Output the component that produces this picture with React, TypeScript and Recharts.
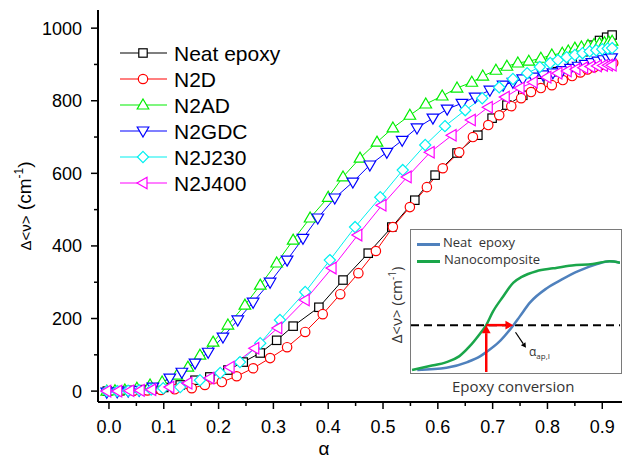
import { LineChart, Line, XAxis, YAxis, ReferenceLine } from "recharts";

// ---- main chart data (alpha, delta nu) ----
const NEAT_A = [-0.003, 0.02, 0.04, 0.06, 0.08, 0.1, 0.13, 0.157, 0.184, 0.217, 0.245, 0.276, 0.306, 0.336, 0.383, 0.427, 0.473, 0.516, 0.558, 0.595, 0.635, 0.673, 0.699, 0.726, 0.755, 0.786, 0.818, 0.845, 0.865, 0.88, 0.895, 0.908, 0.918];
const NEAT_V = [0, 1, 2, 4, 6, 10, 17, 30, 39, 58, 80, 105, 140, 179, 231, 306, 380, 452, 526, 595, 656, 705, 752, 788, 815, 850, 880, 910, 935, 953, 966, 975, 981];

const N2D_A = [-0.003, 0.02, 0.045, 0.07, 0.095, 0.12, 0.151, 0.175, 0.206, 0.233, 0.263, 0.294, 0.325, 0.358, 0.39, 0.422, 0.455, 0.487, 0.518, 0.549, 0.58, 0.609, 0.639, 0.664, 0.692, 0.712, 0.734, 0.752, 0.77, 0.788, 0.808, 0.828, 0.845, 0.86, 0.873, 0.885, 0.896, 0.906, 0.914, 0.92];
const N2D_V = [0, 0, 1, 2, 3, 5, 8, 17, 25, 41, 63, 91, 121, 163, 212, 267, 325, 386, 452, 507, 562, 614, 658, 700, 733, 760, 785, 807, 824, 835, 843, 857, 868, 878, 886, 892, 897, 901, 903, 904];

const N2AD_A = [-0.004, 0.011, 0.029, 0.051, 0.075, 0.097, 0.124, 0.144, 0.166, 0.19, 0.217, 0.248, 0.276, 0.306, 0.336, 0.367, 0.4, 0.427, 0.458, 0.489, 0.518, 0.549, 0.578, 0.608, 0.635, 0.662, 0.682, 0.706, 0.726, 0.746, 0.766, 0.788, 0.808, 0.827, 0.838, 0.85, 0.862, 0.874, 0.885, 0.895, 0.904, 0.912, 0.918];
const N2AD_V = [0, 1, 3, 8, 17, 25, 44, 66, 99, 135, 182, 237, 292, 353, 416, 477, 534, 590, 642, 686, 725, 760, 791, 813, 835, 851, 868, 884, 895, 904, 909, 917, 926, 931, 937, 945, 948, 952, 955, 958, 960, 962, 964];

const N2GDC_A = [-0.004, 0.015, 0.035, 0.055, 0.08, 0.111, 0.133, 0.157, 0.181, 0.208, 0.235, 0.263, 0.294, 0.325, 0.354, 0.381, 0.412, 0.445, 0.476, 0.507, 0.535, 0.562, 0.591, 0.617, 0.644, 0.668, 0.695, 0.719, 0.737, 0.755, 0.774, 0.792, 0.81, 0.827, 0.842, 0.856, 0.869, 0.881, 0.892, 0.902, 0.91, 0.917];
const N2GDC_V = [-3, -2, 0, 2, 11, 36, 52, 77, 107, 149, 196, 245, 300, 361, 421, 477, 532, 576, 623, 658, 691, 725, 752, 777, 793, 810, 829, 843, 851, 860, 865, 871, 877, 883, 889, 895, 900, 905, 909, 913, 916, 918];

const N2J230_A = [-0.004, 0.015, 0.035, 0.055, 0.077, 0.099, 0.13, 0.166, 0.203, 0.239, 0.276, 0.312, 0.358, 0.403, 0.449, 0.495, 0.536, 0.577, 0.613, 0.65, 0.681, 0.712, 0.737, 0.763, 0.786, 0.805, 0.819, 0.835, 0.85, 0.864, 0.877, 0.889, 0.9, 0.91, 0.918];
const N2J230_V = [0, 0, 1, 2, 4, 8, 11, 30, 50, 80, 132, 196, 273, 361, 452, 534, 609, 678, 730, 774, 807, 837, 860, 876, 893, 904, 912, 920, 926, 931, 936, 939, 942, 944, 945];

const N2J400_A = [-0.004, 0.016, 0.038, 0.057, 0.078, 0.111, 0.144, 0.184, 0.221, 0.266, 0.308, 0.358, 0.407, 0.454, 0.498, 0.544, 0.586, 0.626, 0.661, 0.692, 0.723, 0.75, 0.774, 0.799, 0.819, 0.836, 0.852, 0.866, 0.879, 0.891, 0.902, 0.911, 0.918];
const N2J400_V = [0, 0, 1, 2, 4, 11, 22, 36, 66, 118, 174, 251, 339, 430, 512, 590, 658, 705, 747, 782, 810, 835, 851, 865, 876, 882, 887, 891, 894, 896, 897, 898, 898];

const X_TICKS = [0, 0.05, 0.1, 0.15, 0.2, 0.25, 0.3, 0.35, 0.4, 0.45, 0.5, 0.55, 0.6, 0.65, 0.7, 0.75, 0.8, 0.85, 0.9];
const Y_TICKS = [0, 100, 200, 300, 400, 500, 600, 700, 800, 900, 1000];

// ---- inset (schematic) data ----
const INSET_NEAT_X = [3, 17, 27, 33, 36, 42, 49, 52, 57, 65, 72, 80, 89, 95, 100];
const INSET_NEAT_Y = [1.4, 3, 7, 11, 14, 21, 33, 39, 49, 59, 65, 71, 76, 78, 77];
const INSET_NANO_X = [0.5, 9, 17, 23, 28, 33, 36, 39, 44, 49, 53, 60, 68, 77, 87, 95, 100];
const INSET_NANO_Y = [1.4, 4.2, 7, 11, 18, 27, 33, 42, 53, 63, 67, 71, 73, 75, 76, 78, 77];
const THRESHOLD = 33;
const ALPHA_NANO = 36;
const ALPHA_NEAT = 49;

const zip = (a: number[], v: number[]) => a.map((x, i) => ({ a: x, v: v[i] }));

const FONT = "'Liberation Sans', Arial, sans-serif";
const INSET_FONT = "'Open Sans', 'Noto Sans', sans-serif";

type MarkerKind = "square" | "circle" | "up" | "down" | "diamond" | "left";

function Marker({ kind, cx, cy, color }: { kind: MarkerKind; cx: number; cy: number; color: string }) {
  const p = { fill: "#fff", stroke: color, strokeWidth: 1.2 };
  switch (kind) {
    case "square":
      return <rect x={cx - 4.2} y={cy - 4.2} width={8.4} height={8.4} {...p} />;
    case "circle":
      return <circle cx={cx} cy={cy} r={4.7} {...p} />;
    case "up":
      return <polygon points={`${cx},${cy - 6} ${cx + 5.8},${cy + 4} ${cx - 5.8},${cy + 4}`} {...p} />;
    case "down":
      return <polygon points={`${cx},${cy + 6} ${cx + 5.8},${cy - 4} ${cx - 5.8},${cy - 4}`} {...p} />;
    case "diamond":
      return <polygon points={`${cx},${cy - 5.6} ${cx + 5.6},${cy} ${cx},${cy + 5.6} ${cx - 5.6},${cy}`} {...p} />;
    default:
      return <polygon points={`${cx - 6},${cy} ${cx + 4},${cy - 5.8} ${cx + 4},${cy + 5.8}`} {...p} />;
  }
}

const SERIES: { name: string; color: string; kind: MarkerKind; data: { a: number; v: number }[] }[] = [
  { name: "Neat epoxy", color: "#000000", kind: "square", data: zip(NEAT_A, NEAT_V) },
  { name: "N2D", color: "#ff0000", kind: "circle", data: zip(N2D_A, N2D_V) },
  { name: "N2AD", color: "#00ee00", kind: "up", data: zip(N2AD_A, N2AD_V) },
  { name: "N2GDC", color: "#0000ff", kind: "down", data: zip(N2GDC_A, N2GDC_V) },
  { name: "N2J230", color: "#00f0f0", kind: "diamond", data: zip(N2J230_A, N2J230_V) },
  { name: "N2J400", color: "#ff00ff", kind: "left", data: zip(N2J400_A, N2J400_V) },
];

const XTick = ({ x, y, payload }: any) => {
  const major = Math.round(payload.value * 100) % 10 === 0;
  return (
    <g>
      <line x1={x} x2={x} y1={y} y2={y + (major ? 7 : 4)} stroke="#000" strokeWidth={1.5} />
      {major && (
        <text x={x} y={y + 31} textAnchor="middle" fontSize={18} fontFamily={FONT} fill="#000">
          {payload.value.toFixed(1)}
        </text>
      )}
    </g>
  );
};

const TopTick = ({ x, y }: any) => <line x1={x} x2={x} y1={y} y2={y - 3} stroke="#000" strokeWidth={1.2} />;

const YTick = ({ x, y, payload }: any) => {
  const major = payload.value % 200 === 0;
  return (
    <g>
      <line x1={x} x2={x - (major ? 7 : 4)} y1={y} y2={y} stroke="#000" strokeWidth={1.5} />
      {major && (
        <text x={x - 16} y={y + 6.5} textAnchor="end" fontSize={18} fontFamily={FONT} fill="#000">
          {payload.value}
        </text>
      )}
    </g>
  );
};

const arrow = (color: string, w: number, head: number) => (p: any) => {
  const { x1, y1, x2, y2 } = p;
  const len = Math.hypot(x2 - x1, y2 - y1) || 1;
  const ux = (x2 - x1) / len;
  const uy = (y2 - y1) / len;
  const bx = x2 - ux * head;
  const by = y2 - uy * head;
  const hw = head * 0.55;
  return (
    <g>
      <line x1={x1} y1={y1} x2={bx} y2={by} stroke={color} strokeWidth={w} />
      <polygon points={`${x2},${y2} ${bx - uy * hw},${by + ux * hw} ${bx + uy * hw},${by - ux * hw}`} fill={color} />
    </g>
  );
};

function Inset() {
  return (
    <>
      <div
        style={{
          position: "absolute", left: 410, top: 229, width: 212, height: 145,
          border: "1.5px solid #7a7a7a", boxSizing: "border-box", background: "#fff",
        }}
      >
        <LineChart width={209} height={142} margin={{ top: 0, right: 0, bottom: 0, left: 0 }}>
          <XAxis type="number" dataKey="x" domain={[0, 100]} hide />
          <YAxis type="number" domain={[0, 100]} hide />
          <ReferenceLine y={THRESHOLD} stroke="#000" strokeWidth={2} strokeDasharray="8 5" />
          <Line data={zip(INSET_NEAT_X, INSET_NEAT_Y).map((d) => ({ x: d.a, y: d.v }))} dataKey="y"
            type="monotone" stroke="#4f81bd" strokeWidth={2.5} dot={false} isAnimationActive={false} />
          <Line data={zip(INSET_NANO_X, INSET_NANO_Y).map((d) => ({ x: d.a, y: d.v }))} dataKey="y"
            type="monotone" stroke="#1aa64a" strokeWidth={2.5} dot={false} isAnimationActive={false} />
          <ReferenceLine segment={[{ x: ALPHA_NANO, y: 0 }, { x: ALPHA_NANO, y: THRESHOLD }]} ifOverflow="visible"
            shape={arrow("#ff0000", 2.5, 8)} />
          <ReferenceLine segment={[{ x: ALPHA_NANO, y: THRESHOLD }, { x: ALPHA_NEAT, y: THRESHOLD }]} ifOverflow="visible"
            shape={arrow("#ff0000", 2.5, 8)} />
          <ReferenceLine segment={[{ x: ALPHA_NEAT + 1, y: THRESHOLD - 5 }, { x: ALPHA_NEAT + 6, y: THRESHOLD - 16 }]}
            ifOverflow="visible" shape={arrow("#000", 1.2, 5)} />
        </LineChart>
        <div style={{ position: "absolute", left: 6, top: 13, width: 23, height: 2.5, background: "#4f81bd" }} />
        <div style={{ position: "absolute", left: 6, top: 30, width: 23, height: 2.5, background: "#1aa64a" }} />
        <div style={{ position: "absolute", left: 32, top: 3, fontSize: 13, fontFamily: INSET_FONT, color: "#333", whiteSpace: "pre" }}>
          Neat  epoxy
        </div>
        <div style={{ position: "absolute", left: 33, top: 20, fontSize: 13, fontFamily: INSET_FONT, color: "#333" }}>
          Nanocomposite
        </div>
        <div style={{ position: "absolute", left: 118, top: 116, fontSize: 12, fontFamily: INSET_FONT, color: "#333", lineHeight: 1 }}>
          α<sub style={{ fontSize: 8 }}>ap,I</sub>
        </div>
      </div>
      <div style={{ position: "absolute", left: 452, top: 376, fontSize: 15, fontFamily: INSET_FONT, color: "#333", whiteSpace: "pre" }}>
        Epoxy conversion
      </div>
      <div
        style={{
          position: "absolute", left: 395, top: 305, fontSize: 15, fontFamily: INSET_FONT, color: "#333",
          whiteSpace: "pre", transform: "translate(-50%, -50%) rotate(-90deg)",
        }}
      >
        Δ&lt;ν&gt; (cm<sup style={{ fontSize: 10 }}>-1</sup>)
      </div>
    </>
  );
}

function LegendBox() {
  return (
    <svg style={{ position: "absolute", left: 0, top: 0 }} width={632} height={458} pointerEvents="none">
      {SERIES.map((s, i) => {
        const cy = 53 + i * 26;
        return (
          <g key={s.name}>
            <line x1={120} x2={167} y1={cy} y2={cy} stroke={s.color} strokeWidth={1.2} />
            <Marker kind={s.kind} cx={143} cy={cy} color={s.color} />
            <text x={174} y={cy + 7.5} fontSize={21} fontFamily={FONT} fill="#000">
              {s.name}
            </text>
          </g>
        );
      })}
    </svg>
  );
}

export default function App() {
  return (
    <div style={{ position: "absolute", left: 0, top: 0, width: 632, height: 458, background: "#fff" }}>
      <LineChart width={632} height={458} margin={{ top: 10, right: 10, bottom: 0, left: 0 }}>
        <XAxis type="number" dataKey="a" domain={[-0.02, 0.936]} ticks={X_TICKS} interval={0}
          height={56} tickSize={0} tickMargin={0} tick={<XTick />} axisLine={{ stroke: "#000", strokeWidth: 2 }}
          allowDataOverflow
          label={{ value: "α", position: "insideBottomLeft", content: (p: any) => (
            <text x={324} y={455} textAnchor="middle" fontSize={19} fontFamily={FONT} fill="#000">α</text>
          ) }} />
        <XAxis xAxisId="top" orientation="top" type="number" dataKey="a" domain={[-0.02, 0.936]} ticks={X_TICKS}
          interval={0} height={0} tickSize={0} tickMargin={0} tick={<TopTick />}
          axisLine={{ stroke: "#000", strokeWidth: 2 }} allowDataOverflow />
        <YAxis type="number" domain={[-30, 1050]} ticks={Y_TICKS} interval={0} width={98} tickSize={0}
          tickMargin={0} tick={<YTick />} axisLine={{ stroke: "#000", strokeWidth: 2 }} allowDataOverflow
          label={{ value: "Δ<ν> (cm-1)", content: () => (
            <text transform="translate(31,206) rotate(-90)" textAnchor="middle" fontFamily={FONT} fill="#000">
              <tspan fontSize={15}>Δ&lt;ν&gt;</tspan>
              <tspan fontSize={19}> (cm</tspan>
              <tspan fontSize={12} dy={-8}>-1</tspan>
              <tspan fontSize={19} dy={8}>)</tspan>
            </text>
          ) }} />
        <YAxis yAxisId="right" orientation="right" type="number" domain={[-30, 1050]} width={0} tick={false}
          tickLine={false} axisLine={{ stroke: "#000", strokeWidth: 2 }} />
        {SERIES.map((s) => (
          <Line key={s.name} data={s.data} dataKey="v" name={s.name} type="linear" stroke={s.color}
            strokeWidth={1} isAnimationActive={false}
            dot={(p: any) => <Marker key={`${s.name}-${p.index}`} kind={s.kind} cx={p.cx} cy={p.cy} color={s.color} />} />
        ))}
      </LineChart>
      <LegendBox />
      <Inset />
    </div>
  );
}
